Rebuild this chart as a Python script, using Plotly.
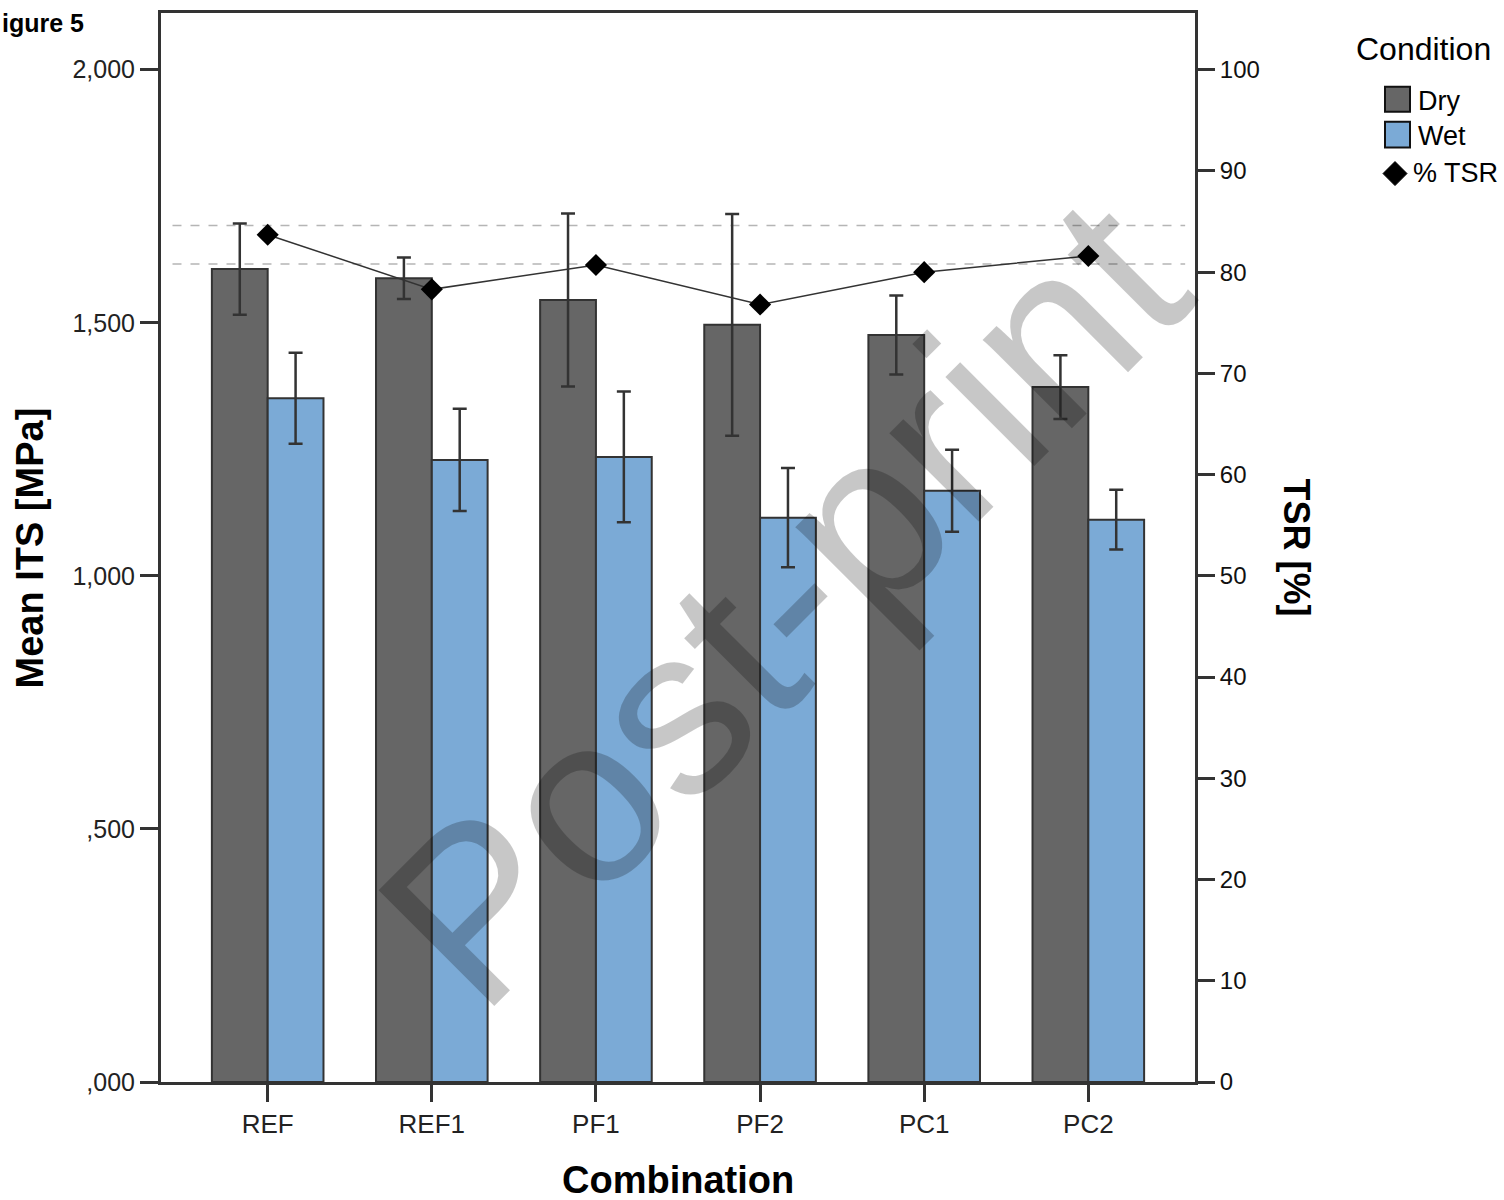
import plotly.graph_objects as go

# ---------------- data ----------------
categories = ["REF", "REF1", "PF1", "PF2", "PC1", "PC2"]
dry_mean = [1606, 1588, 1545, 1496, 1476, 1373]
dry_err = [90, 41, 171, 219, 78, 63]
wet_mean = [1351, 1229, 1235, 1115, 1168, 1111]
wet_err = [90, 101, 129, 98, 81, 59]
tsr = [83.7, 78.3, 80.7, 76.8, 80.0, 81.6]
ref_lines = [84.6, 80.8]

left_tickvals = [0, 500, 1000, 1500, 2000]
left_ticktext = [",000", ",500", "1,000", "1,500", "2,000"]
right_tickvals = [0, 10, 20, 30, 40, 50, 60, 70, 80, 90, 100]

FONT = "Liberation Sans, Arial, Helvetica, sans-serif"
DRY = "#666666"
WET = "#7BAAD6"
EDGE = "#333333"

# plot area in pixels (for paper-coordinate helpers)
PL, PR, PT, PB = 161, 1195, 10, 1082


def px_x(px):
    return (px - PL) / (PR - PL)


def px_y(py):
    return (PB - py) / (PB - PT)


fig = go.Figure()

fig.add_trace(go.Bar(
    x=categories, y=dry_mean, name="Dry",
    marker=dict(color=DRY, line=dict(color=EDGE, width=2)),
    error_y=dict(type="data", array=dry_err, color=EDGE, thickness=2.5, width=7),
))
fig.add_trace(go.Bar(
    x=categories, y=wet_mean, name="Wet",
    marker=dict(color=WET, line=dict(color=EDGE, width=2)),
    error_y=dict(type="data", array=wet_err, color=EDGE, thickness=2.5, width=7),
))
fig.add_trace(go.Scatter(
    x=categories, y=tsr, name="% TSR", yaxis="y2", mode="lines+markers",
    line=dict(color="#333333", width=1.5),
    marker=dict(symbol="diamond", size=17, color="black"),
))

# dashed reference lines
for v in ref_lines:
    fig.add_shape(type="line", xref="x", yref="y2", x0=-0.58, x1=5.59, y0=v, y1=v,
                  line=dict(color="#b5b5b5", width=1.5, dash="dash"), layer="below")

axis_common = dict(showgrid=False, zeroline=False, showline=True, linecolor=EDGE,
                   linewidth=3, ticks="outside", tickcolor=EDGE, tickwidth=3)

fig.update_layout(
    width=1504, height=1200,
    margin=dict(l=PL, r=1504 - PR, t=PT, b=1200 - PB),
    plot_bgcolor="white", paper_bgcolor="white",
    barmode="group", bargap=0.32, bargroupgap=0,
    showlegend=False,
    font=dict(family=FONT, color="#111111"),
    xaxis=dict(**axis_common, range=[-0.65, 5.65], mirror=True, ticklen=17,
               tickfont=dict(size=26, color="#222"), type="category"),
    yaxis=dict(**axis_common, range=[0, 2112], ticklen=18,
               tickvals=left_tickvals, ticktext=left_ticktext,
               tickfont=dict(size=25, color="#222")),
    yaxis2=dict(**axis_common, range=[0, 105.6], overlaying="y", side="right",
                ticklen=17, tickvals=right_tickvals,
                tickfont=dict(size=24, color="#111")),
)


def ann(text, x, y, size, xanchor="center", angle=0, color="black"):
    return dict(text=text, x=px_x(x), y=px_y(y), xref="paper", yref="paper",
                xanchor=xanchor, yanchor="middle", textangle=angle, showarrow=False,
                font=dict(size=size, color=color, family=FONT))


annotations = [
    # axis titles
    ann("<b>Mean ITS [MPa]</b>", 30, 547, 38, angle=-90),
    ann("<b>Combination</b>", 678, 1180, 38),
    ann("<b>TSR [%]</b>", 1296, 546, 36, angle=90),
    # figure label (cropped in source)
    ann("<b>igure 5</b>", 0, 20, 25, xanchor="left"),
    # legend
    ann("Condition", 1354, 46, 32, xanchor="left"),
    ann("Dry", 1416, 98, 27, xanchor="left"),
    ann("Wet", 1416, 133, 27, xanchor="left"),
    ann("% TSR", 1411, 170, 27, xanchor="left"),
    # watermark
    ann("Post-print", 782, 600, 238, angle=-45, color="rgba(0,0,0,0.22)"),
]
fig.update_layout(annotations=annotations)

# legend swatches
fig.add_shape(type="rect", xref="paper", yref="paper",
              x0=px_x(1385), x1=px_x(1410), y0=px_y(109), y1=px_y(84),
              fillcolor=DRY, line=dict(color="#111", width=2))
fig.add_shape(type="rect", xref="paper", yref="paper",
              x0=px_x(1385), x1=px_x(1410), y0=px_y(145), y1=px_y(119),
              fillcolor=WET, line=dict(color="#111", width=2))
fig.add_shape(type="path", xref="paper", yref="paper",
              xsizemode="pixel", ysizemode="pixel",
              xanchor=px_x(1395), yanchor=px_y(171),
              path="M -12 0 L 0 12 L 12 0 L 0 -12 Z",
              fillcolor="black", line=dict(color="black", width=1))

fig.write_html("out.html")
